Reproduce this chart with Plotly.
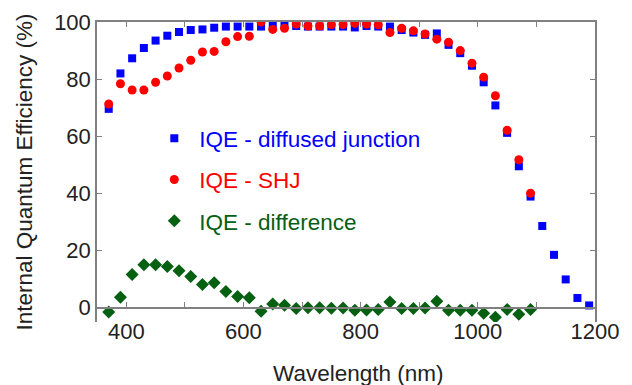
import plotly.graph_objects as go

wavelength_dj = [370, 390, 410, 430, 450, 470, 490, 510, 530, 550, 570, 590, 610, 630,
                 650, 670, 690, 710, 730, 750, 770, 790, 810, 830, 850, 870, 890, 910,
                 930, 950, 970, 990, 1010, 1030, 1050, 1070, 1090, 1110, 1130, 1150,
                 1170, 1190]
iqe_diffused = [69.6, 82.0, 87.3, 90.9, 93.5, 95.2, 96.5, 97.2, 97.4, 98.0, 98.4, 98.4,
                98.4, 98.4, 99.0, 99.0, 98.6, 98.4, 98.4, 98.4, 98.4, 98.1, 98.6, 98.4,
                98.4, 97.2, 96.3, 95.5, 96.0, 92.0, 89.1, 84.7, 78.9, 70.8, 61.2, 49.5,
                38.9, 28.6, 18.5, 9.9, 3.4, 0.8]

wavelength_shj = [370, 390, 410, 430, 450, 470, 490, 510, 530, 550, 570, 590, 610, 630,
                  650, 670, 690, 710, 730, 750, 770, 790, 810, 830, 850, 870, 890, 910,
                  930, 950, 970, 990, 1010, 1030, 1050, 1070, 1090]
iqe_shj = [71.3, 78.4, 76.2, 76.2, 78.9, 81.1, 83.9, 86.6, 89.5, 89.7, 93.1, 94.9, 95.0,
           100.0, 97.4, 97.8, 99.3, 98.6, 98.6, 99.1, 99.1, 99.5, 99.3, 99.0, 96.3, 97.8,
           96.9, 95.8, 94.0, 92.9, 90.0, 85.6, 80.7, 74.2, 62.1, 51.8, 40.1]
iqe_difference = [-1.5, 3.7, 11.6, 15.0, 15.0, 14.4, 12.9, 10.9, 8.1, 8.7, 5.7, 3.9, 3.5,
                  -1.2, 1.3, 0.9, -0.3, 0.0, 0.0, -0.2, -0.1, -0.9, -0.8, -0.6, 2.0, -0.3,
                  -0.3, -0.1, 2.3, -0.9, -0.9, -0.9, -1.9, -3.3, -0.6, -2.3, -0.6]

x_ticks = [400, 600, 800, 1000, 1200]
y_ticks = [0, 20, 40, 60, 80, 100]
x_range = [350, 1200]
y_range = [-5, 100]
x_title = "Wavelength (nm)"
y_title = "Internal Quantum Efficiency (%)"

BLUE = "#0000ff"
RED = "#ff0000"
GREEN = "#066012"
AXIS = "#808080"
TEXT = "#222222"
FONT = "Liberation Sans, Arial, sans-serif"

fig = go.Figure()
fig.add_trace(go.Scatter(
    x=wavelength_dj, y=iqe_diffused, mode="markers", legendgroup="a",
    name=f"<span style='color:{BLUE}'>IQE - diffused junction</span>",
    marker=dict(symbol="square", size=8, color=BLUE)))
fig.add_trace(go.Scatter(
    x=wavelength_shj, y=iqe_shj, mode="markers", legendgroup="b",
    name=f"<span style='color:{RED}'>IQE - SHJ</span>",
    marker=dict(symbol="circle", size=9, color=RED)))
fig.add_trace(go.Scatter(
    x=wavelength_shj, y=iqe_difference, mode="markers", legendgroup="c",
    name=f"<span style='color:{GREEN}'>IQE - difference</span>",
    marker=dict(symbol="diamond", size=10, color=GREEN)))
# empty helper traces so the extra axes (zero line, top frame) are drawn
fig.add_trace(go.Scatter(x=[], y=[], xaxis="x2", yaxis="y", showlegend=False, hoverinfo="skip"))
fig.add_trace(go.Scatter(x=[], y=[], xaxis="x3", yaxis="y", showlegend=False, hoverinfo="skip"))

zero_pos = (0 - y_range[0]) / (y_range[1] - y_range[0])

# page has an 8px body margin, so the figure is 8px smaller and margins shifted
fig.update_layout(
    width=624, height=377,
    margin=dict(l=89, r=37, t=14, b=63),
    paper_bgcolor="white", plot_bgcolor="white",
    font=dict(family=FONT, size=22, color=TEXT),
    showlegend=True,
    legend=dict(x=0.105, y=0.683, xanchor="left", yanchor="top",
                bgcolor="rgba(0,0,0,0)", font=dict(size=22.5),
                tracegroupgap=9, itemwidth=40),
    xaxis=dict(range=x_range, tickvals=x_ticks, showline=False, ticks="",
               showgrid=False, zeroline=False, automargin=False,
               ticklabelstandoff=-6,
               tickfont=dict(size=22, color=TEXT)),
    xaxis2=dict(range=x_range, overlaying="x", anchor="free", position=zero_pos,
                showline=True, linecolor=AXIS, linewidth=1.5, ticks="inside",
                tickcolor=AXIS, ticklen=5, tickwidth=1, dtick=100, tick0=400,
                showticklabels=False, showgrid=False, zeroline=False, automargin=False),
    xaxis3=dict(range=x_range, overlaying="x", side="top", anchor="y",
                showline=True, linecolor=AXIS, linewidth=1.5, ticks="inside",
                tickcolor=AXIS, ticklen=5, tickwidth=1, dtick=100, tick0=400,
                showticklabels=False, showgrid=False, zeroline=False, automargin=False),
    yaxis=dict(range=y_range, tickvals=y_ticks, showline=True, mirror="ticks",
               linecolor=AXIS, linewidth=1.5, ticks="inside", tickcolor=AXIS,
               ticklen=5, showgrid=False, zeroline=False, automargin=False,
               tickfont=dict(size=22, color=TEXT),
               title=dict(text=y_title, font=dict(size=22.5), standoff=15)),
    annotations=[dict(text=x_title, xref="paper", yref="paper", x=0.524, y=-0.173,
                      xanchor="center", yanchor="middle", showarrow=False,
                      font=dict(size=22.5, color=TEXT))],
)

fig.write_html("out.html")
